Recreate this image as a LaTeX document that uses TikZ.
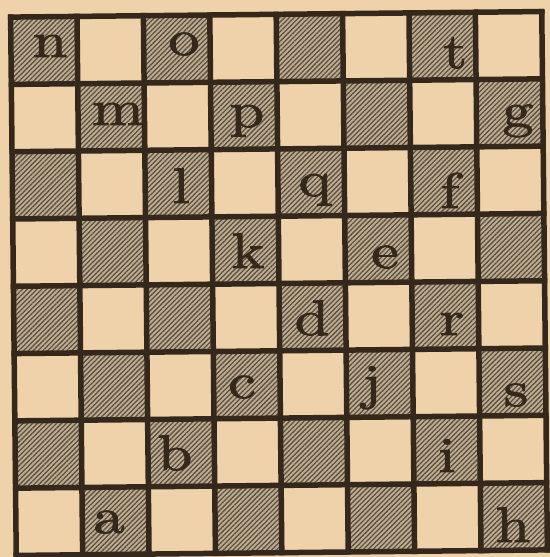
\documentclass[tikz,border=0pt]{standalone}
\usepackage{fontspec}
\usepackage{graphicx}
\newfontfamily\lmfake{lmroman10-regular.otf}[FakeBold=1.6]
\usetikzlibrary{patterns.meta}
\definecolor{paper}{RGB}{240,210,170}
\definecolor{ink}{RGB}{52,40,28}
\definecolor{hatchbg}{RGB}{192,174,146}
\definecolor{hatchink}{RGB}{92,80,64}
\newcommand{\wl}[1]{\scalebox{1.25}[1]{#1}}
\tikzset{
  gridline/.style={draw=ink, line width=5.5bp, line cap=rect},
  darksq/.style={fill=hatchbg},
  hatchsq/.style={pattern={Lines[angle=45,distance=3.4bp,line width=1.3bp]}, pattern color=hatchink},
  lbl/.style={anchor=base, inner sep=0pt, text=ink, font=\lmfake\fontsize{50bp}{50bp}\selectfont}
}
\begin{document}
\begin{tikzpicture}[x=1bp,y=-1bp]
\fill[paper] (0,0) rectangle (550,557);
\useasboundingbox (0,0) rectangle (550,557);
\begin{scope}[shift={(279,283.5)}, rotate=0.6]
  \foreach \c in {0,...,7} {
    \foreach \r in {0,...,7} {
      \pgfmathtruncatemacro{\sqpar}{mod(\c+\r,2)}
      \ifnum\sqpar=0
        \path[darksq] ({(\c-4)*66.4},{(\r-4)*67.3}) rectangle ({(\c-3)*66.4},{(\r-3)*67.3});
        \path[hatchsq] ({(\c-4)*66.4},{(\r-4)*67.3}) rectangle ({(\c-3)*66.4},{(\r-3)*67.3});
      \fi
    }
  }
  \foreach \i in {0,...,8} {
    \draw[gridline] ({(\i-4)*66.4},-269.2) -- ({(\i-4)*66.4},269.2);
    \draw[gridline] (-265.6,{(\i-4)*67.3}) -- (265.6,{(\i-4)*67.3});
  }
\end{scope}
\node[lbl] (n) at (50,57) {\wl{n}};
\node[lbl] (o) at (184,55) {\wl{o}};
\node[lbl] (t) at (455,68) {\wl{t}};
\node[lbl] (m) at (118,125) {\wl{m}};
\node[lbl] (p) at (247,127) {\wl{p}};
\node[lbl] (g) at (518,127) {\wl{g}};
\node[lbl] (l) at (181,203) {\wl{l}};
\node[lbl] (q) at (315,196) {\wl{q}};
\node[lbl] (f) at (450,208) {\wl{f}};
\node[lbl] (k) at (248,268) {\wl{k}};
\node[lbl] (e) at (385,268) {\wl{e}};
\node[lbl] (d) at (312,335) {\wl{d}};
\node[lbl] (r) at (452,335) {\wl{r}};
\node[lbl] (c) at (242,398) {\wl{c}};
\node[lbl] (j) at (372,399) {\wl{j}};
\node[lbl] (s) at (516,406) {\wl{s}};
\node[lbl] (b) at (175,470) {\wl{b}};
\node[lbl] (i) at (447,472) {\wl{i}};
\node[lbl] (a) at (109,533) {\wl{a}};
\node[lbl] (h) at (513,542) {\wl{h}};
\end{tikzpicture}
\end{document}
